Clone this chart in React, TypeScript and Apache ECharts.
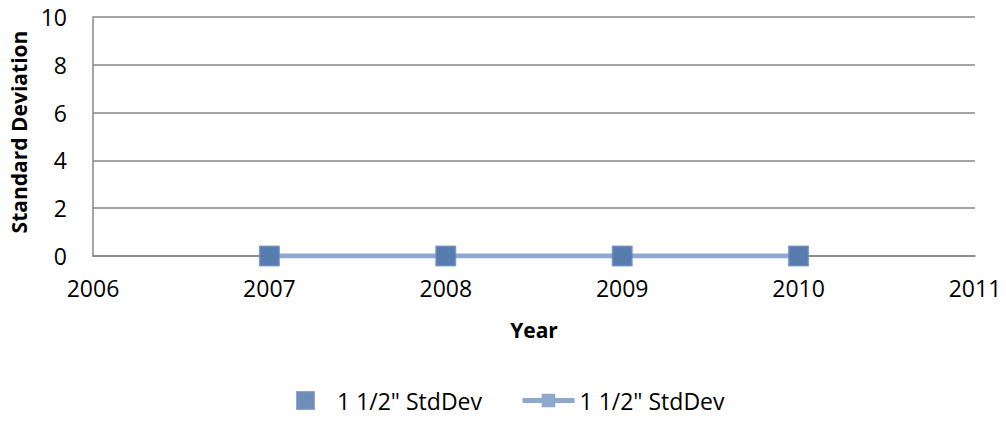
import React, { useEffect, useRef } from "react";
import * as echarts from "echarts";

const years = [2007, 2008, 2009, 2010];
const stdDevMarkers = [0, 0, 0, 0];
const stdDevLine = [0, 0, 0, 0];
const seriesName = '1 1/2" StdDev';

export default function App() {
  const ref = useRef<HTMLDivElement>(null);
  useEffect(() => {
    if (!ref.current) return;
    const chart = echarts.init(ref.current, null, { renderer: "svg" });
    const font = "'Open Sans', sans-serif";
    chart.setOption({
      animation: false,
      backgroundColor: "#ffffff",
      grid: { left: 93, right: 31, top: 17, bottom: 165, containLabel: false },
      xAxis: {
        type: "value",
        min: 2006,
        max: 2011,
        interval: 1,
        name: "Year",
        nameLocation: "middle",
        nameGap: 63,
        nameTextStyle: { fontFamily: font, fontSize: 21, fontWeight: "bold", color: "#000" },
        axisLine: { show: true, lineStyle: { color: "#868686", width: 1.5 } },
        axisTick: { show: false },
        splitLine: { show: false },
        axisLabel: { fontFamily: font, fontSize: 23, color: "#000", margin: 20, formatter: (v: number) => String(v) },
      },
      yAxis: {
        type: "value",
        min: 0,
        max: 10,
        interval: 2,
        name: "Standard Deviation",
        nameLocation: "middle",
        nameGap: 62,
        nameTextStyle: { fontFamily: font, fontSize: 21, fontWeight: "bold", color: "#000", padding: [0, 0, 0, 9] },
        axisLine: { show: true, lineStyle: { color: "#868686", width: 1.5 } },
        axisTick: { show: false },
        splitLine: { show: true, lineStyle: { color: "#868686", width: 1.5 } },
        axisLabel: { fontFamily: font, fontSize: 23, color: "#000", margin: 26 },
      },
      legend: [
        {
          top: 389,
          left: 296,
          itemWidth: 17,
          itemHeight: 17,
          padding: 0,
          textStyle: { fontFamily: font, fontSize: 23, color: "#000", padding: [0, 0, 0, 18] },
          data: [{ name: seriesName, icon: "rect" }],
        },
        {
          top: 389,
          left: 520,
          itemWidth: 52,
          itemHeight: 17,
          padding: 0,
          textStyle: { fontFamily: font, fontSize: 23, color: "#000" },
          data: [{ name: seriesName + " ", lineStyle: { width: 5, color: "#8EA8D0" } }],
        },
      ],
      series: [
        {
          name: seriesName + " ",
          type: "line",
          data: years.map((y, i) => [y, stdDevLine[i]]),
          symbol: "rect",
          symbolSize: 18,
          lineStyle: { color: "#8EA8D0", width: 5 },
          itemStyle: { color: "#8EA8D0" },
          z: 2,
        },
        {
          name: seriesName,
          type: "scatter",
          data: years.map((y, i) => [y, stdDevMarkers[i]]),
          symbol: "rect",
          symbolSize: 20,
          itemStyle: { color: "#4A72A8", borderColor: "#7090C0", borderWidth: 1 },
          z: 3,
        },
      ],
    });
    return () => chart.dispose();
  }, []);
  return (
    <div
      ref={ref}
      style={{ position: "fixed", left: 0, top: 0, width: 1006, height: 421 }}
    />
  );
}
